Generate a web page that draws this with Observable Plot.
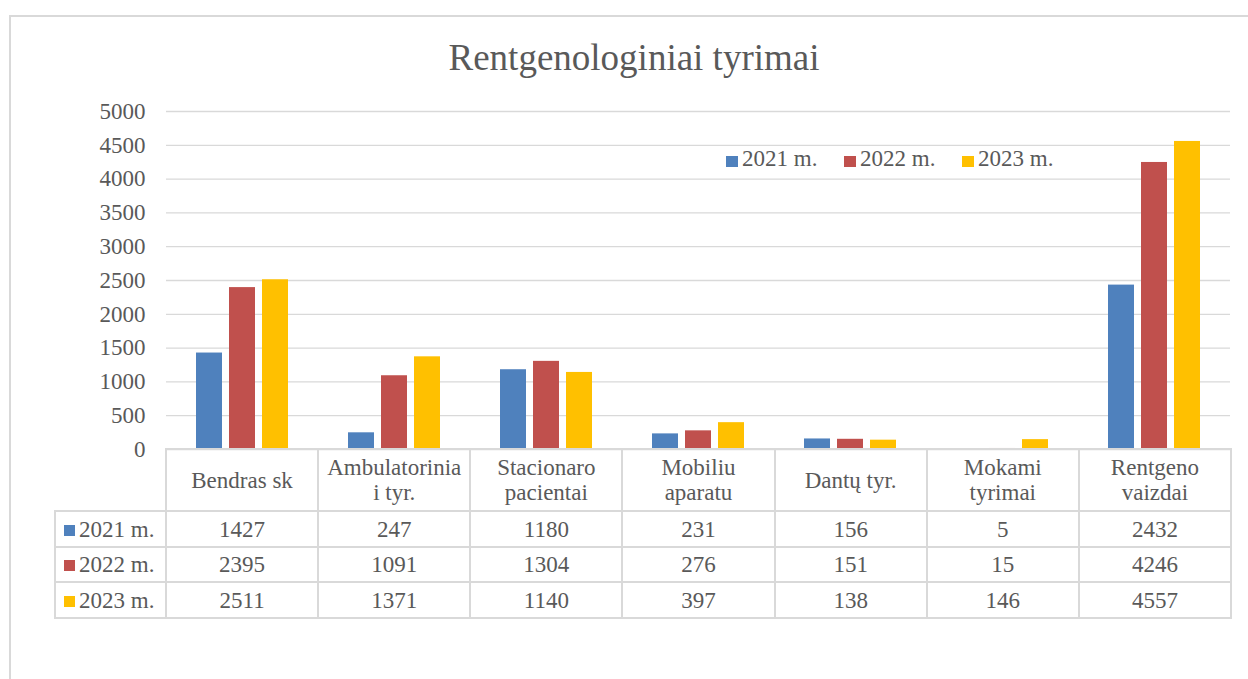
<!DOCTYPE html>
<html>
<head>
<meta charset="utf-8">
<script src="https://cdn.jsdelivr.net/npm/d3@7"></script>
<script src="https://cdn.jsdelivr.net/npm/@observablehq/plot@0.6"></script>
<style>
  html, body { margin: 0; padding: 0; background: #fff; }
  #wrap { position: relative; width: 1248px; height: 679px; overflow: hidden; font-family: "Liberation Serif", "Times New Roman", serif; color: #595959; }
  #frame { position: absolute; left: 9px; top: 15px; width: 1400px; height: 800px; border: 2px solid #d9d9d9; box-sizing: border-box; }
  #title { position: absolute; left: 0; width: 1268px; top: 39px; text-align: center; font-size: 37px; line-height: 37px; white-space: nowrap; }
  #chart { position: absolute; left: 0; top: 0; }
  #chart svg { overflow: visible; }
  .leg { position: absolute; font-size: 23px; line-height: 23px; white-space: nowrap; }
  .sw { position: absolute; width: 12px; height: 11px; }
  table { position: absolute; border-collapse: collapse; table-layout: fixed; font-family: "Liberation Serif", "Times New Roman", serif; font-size: 23px; color: #595959; }
  td { border: 2px solid #d9d9d9; text-align: center; padding: 0; line-height: 25px; white-space: pre; overflow: visible; }
  td.corner { border-top: none; border-left: none; }
  td.rl { text-align: left; position: relative; }
  td.rl .sq { display: inline-block; width: 11px; height: 11px; margin-left: 8px; margin-right: 4px; vertical-align: 1px; }
</style>
</head>
<body>
<div id="wrap">
  <div id="frame"></div>
  <div id="title">Rentgenologiniai tyrimai</div>
  <div id="chart"></div>
</div>
<script>
const categories = ["Bendras sk", "Ambulatorinia\ni tyr.", "Stacionaro\npacientai", "Mobiliu\naparatu", "Dantų tyr.", "Mokami\ntyrimai", "Rentgeno\nvaizdai"];
const years = ["2021 m.", "2022 m.", "2023 m."];
const values2021 = [1427, 247, 1180, 231, 156, 5, 2432];
const values2022 = [2395, 1091, 1304, 276, 151, 15, 4246];
const values2023 = [2511, 1371, 1140, 397, 138, 146, 4557];
const colors = ["#4f81bd", "#c0504d", "#ffc000"];
const yTicks = [0, 500, 1000, 1500, 2000, 2500, 3000, 3500, 4000, 4500, 5000];

const series = [values2021, values2022, values2023];
const data = [];
years.forEach((yr, i) => categories.forEach((c, j) => data.push({category: c, year: yr, value: series[i][j]})));

const plot = Plot.plot({
  width: 1248,
  height: 480,
  marginLeft: 165,
  marginRight: 18,
  marginTop: 111,
  marginBottom: 31,
  style: {fontFamily: "'Liberation Serif', 'Times New Roman', serif", fontSize: "23px", color: "#595959", background: "transparent"},
  fx: {domain: categories, padding: 0, axis: null},
  x: {domain: years, paddingInner: 0.21, paddingOuter: 0.855, axis: null},
  y: {domain: [0, 5000], axis: null},
  color: {domain: years, range: colors},
  marks: [
    Plot.gridY(yTicks, {stroke: "#d9d9d9", strokeOpacity: 1, strokeWidth: 1.3}),
    Plot.axisY(yTicks, {tickSize: 0, tickPadding: 21, label: null, fontSize: 23, fill: "#595959", tickFormat: d => String(d)}),
    Plot.barY(data, {fx: "category", x: "year", y: "value", fill: "year"})
  ]
});
document.getElementById("chart").appendChild(plot);

const wrap = document.getElementById("wrap");

// legend
const legX = [726, 844, 962];
years.forEach((yr, i) => {
  const sw = document.createElement("div");
  sw.className = "sw";
  sw.style.left = legX[i] + "px";
  sw.style.top = "156px";
  sw.style.background = colors[i];
  wrap.appendChild(sw);
  const t = document.createElement("div");
  t.className = "leg";
  t.style.left = (legX[i] + 16) + "px";
  t.style.top = "147px";
  t.textContent = yr;
  wrap.appendChild(t);
});

// data table aligned with the fx scale
const fx = plot.scale("fx");
const left0 = fx.range[0];
const bw = (fx.range[1] - fx.range[0]) / categories.length;
const labelW = 111;
const table = document.createElement("table");
table.style.left = (left0 - labelW) + "px";
table.style.top = "448px";
table.style.width = (labelW + bw * categories.length) + "px";
const cg = document.createElement("colgroup");
const c0 = document.createElement("col"); c0.style.width = labelW + "px"; cg.appendChild(c0);
categories.forEach(() => { const c = document.createElement("col"); c.style.width = bw + "px"; cg.appendChild(c); });
table.appendChild(cg);
const hr = document.createElement("tr");
hr.style.height = "62px";
const corner = document.createElement("td"); corner.className = "corner"; hr.appendChild(corner);
categories.forEach(c => { const td = document.createElement("td"); td.textContent = c; hr.appendChild(td); });
table.appendChild(hr);
const rowH = [36, 35, 36];
years.forEach((yr, i) => {
  const tr = document.createElement("tr");
  tr.style.height = rowH[i] + "px";
  const l = document.createElement("td");
  l.className = "rl";
  const sq = document.createElement("span"); sq.className = "sq"; sq.style.background = colors[i];
  l.appendChild(sq);
  l.appendChild(document.createTextNode(yr));
  tr.appendChild(l);
  series[i].forEach(v => { const td = document.createElement("td"); td.textContent = String(v); tr.appendChild(td); });
  table.appendChild(tr);
});
wrap.appendChild(table);
</script>
</body>
</html>
